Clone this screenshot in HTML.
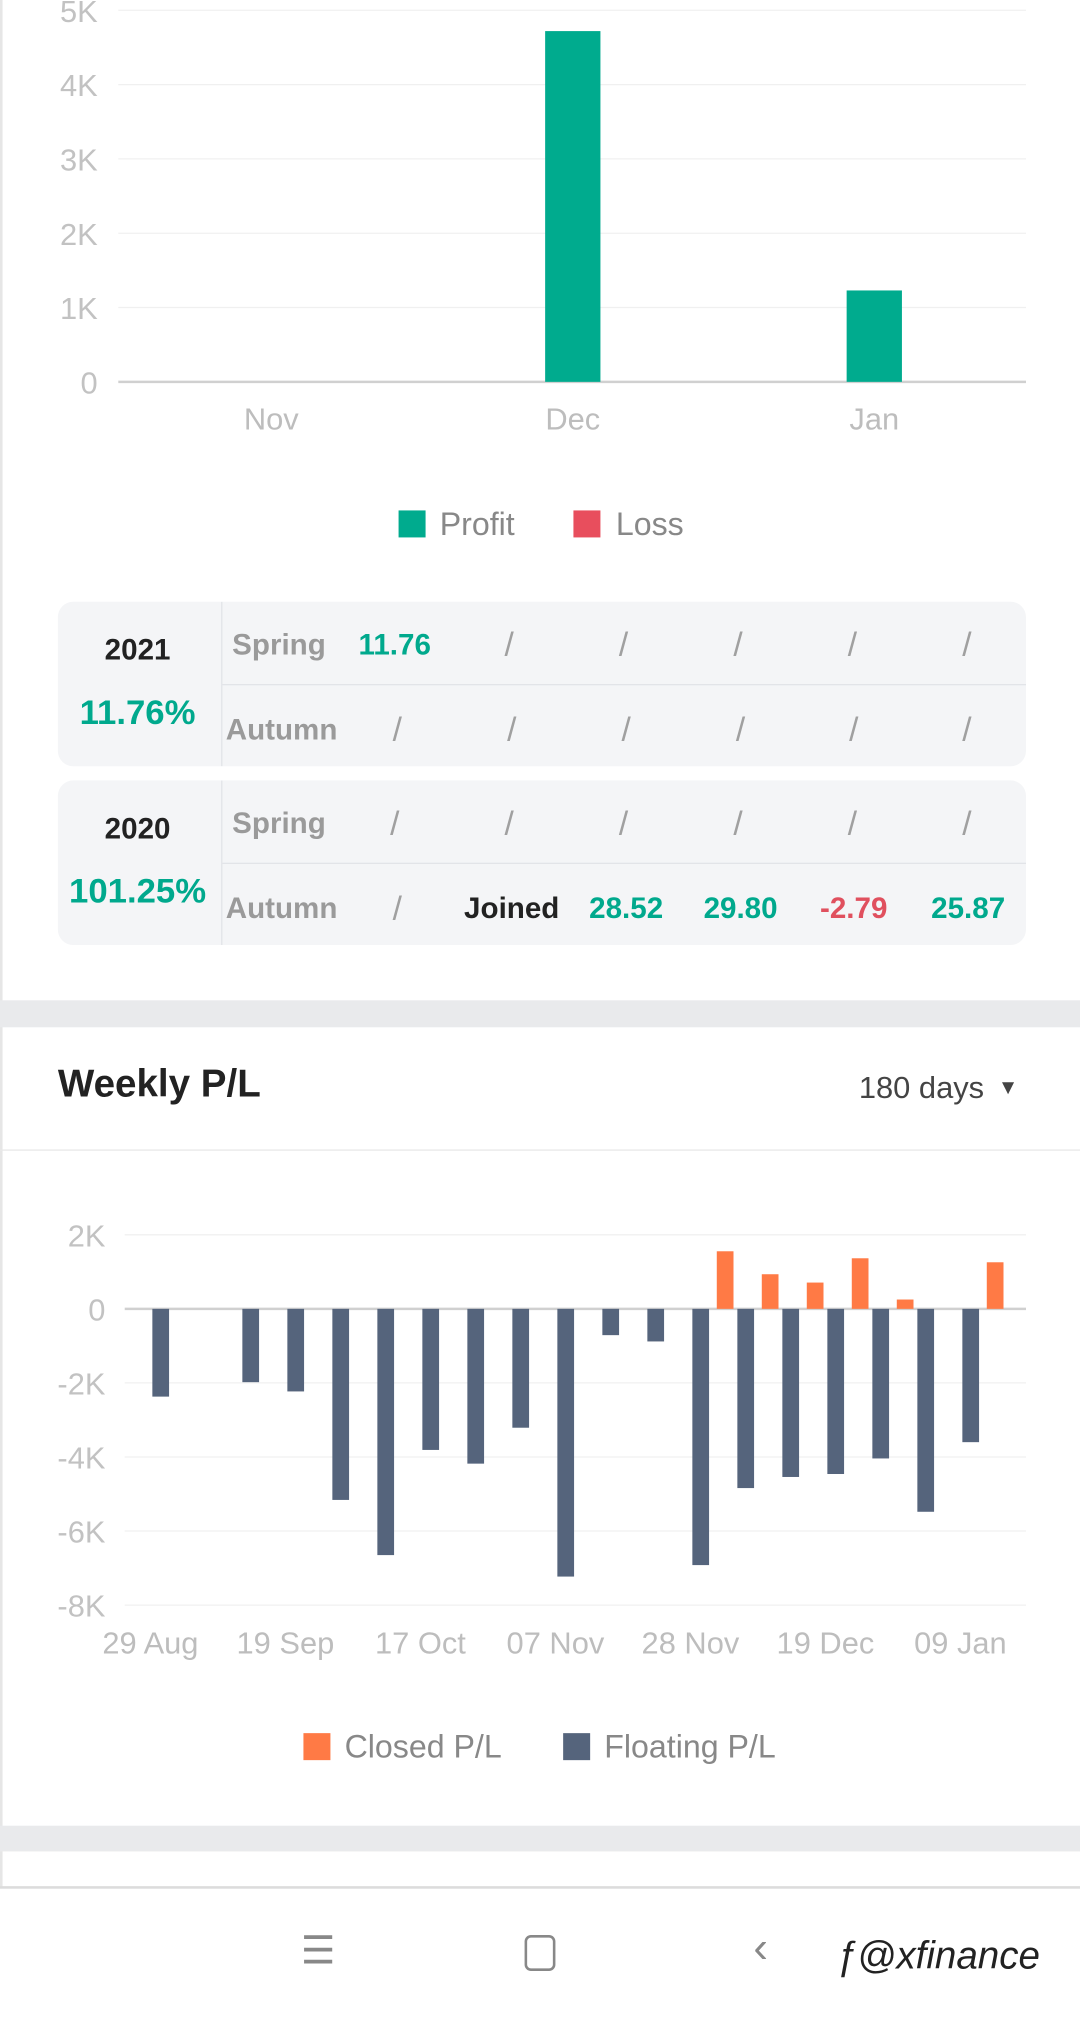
<!DOCTYPE html>
<html><head><meta charset="utf-8">
<style>
html,body{margin:0;padding:0;background:#fff;width:1080px;height:2017px;overflow:hidden;font-family:"Liberation Sans",sans-serif;}
#wrap{position:absolute;left:0;top:0;width:840px;height:1569px;transform:scale(1.285714);transform-origin:0 0;}
.abs{position:absolute;}
.card{position:absolute;left:45px;width:753px;height:128px;background:#f4f5f7;border-radius:12px;overflow:hidden;}
.card .vdiv{position:absolute;left:127px;top:0;bottom:0;width:1px;background:#e2e4e8;}
.card .hdiv{position:absolute;left:128px;right:0;top:64px;height:1px;background:#e2e4e8;}
.cell{position:absolute;transform:translateX(-50%);font-family:"Liberation Sans",sans-serif;font-size:23px;font-weight:bold;white-space:nowrap;}
.g{color:#00a98d}.r{color:#e0505e}.s{color:#a0a0a0;font-weight:normal;font-size:26px}.k{color:#222}.lab{color:#9a9a9a}
</style></head><body>
<div id="wrap">
<div class="abs" style="left:0;top:0;width:2px;height:1468px;background:#e6e6e6"></div>
<svg id="monthly" class="abs" style="left:0;top:0" width="840" height="440"></svg>

<div class="card" style="top:468px">
 <div class="vdiv"></div><div class="hdiv"></div>
 <div class="cell k" style="left:62px;top:24px;font-size:23px">2021</div>
 <div class="cell g" style="left:62px;top:71px;font-size:27px">11.76%</div>
 <div class="cell lab" style="left:172px;top:20px">Spring</div>
 <div class="cell g" style="left:262px;top:20px">11.76</div>
 <div class="cell s" style="left:351px;top:18px">/</div><div class="cell s" style="left:440px;top:18px">/</div><div class="cell s" style="left:529px;top:18px">/</div><div class="cell s" style="left:618px;top:18px">/</div><div class="cell s" style="left:707px;top:18px">/</div>
 <div class="cell lab" style="left:174px;top:86px">Autumn</div>
 <div class="cell s" style="left:264px;top:84px">/</div><div class="cell s" style="left:353px;top:84px">/</div><div class="cell s" style="left:442px;top:84px">/</div><div class="cell s" style="left:531px;top:84px">/</div><div class="cell s" style="left:619px;top:84px">/</div><div class="cell s" style="left:707px;top:84px">/</div>
</div>
<div class="card" style="top:607px">
 <div class="vdiv"></div><div class="hdiv"></div>
 <div class="cell k" style="left:62px;top:24px">2020</div>
 <div class="cell g" style="left:62px;top:71px;font-size:27px">101.25%</div>
 <div class="cell lab" style="left:172px;top:20px">Spring</div>
 <div class="cell s" style="left:262px;top:18px">/</div><div class="cell s" style="left:351px;top:18px">/</div><div class="cell s" style="left:440px;top:18px">/</div><div class="cell s" style="left:529px;top:18px">/</div><div class="cell s" style="left:618px;top:18px">/</div><div class="cell s" style="left:707px;top:18px">/</div>
 <div class="cell lab" style="left:174px;top:86px">Autumn</div>
 <div class="cell s" style="left:264px;top:84px">/</div>
 <div class="cell k" style="left:353px;top:86px">Joined</div>
 <div class="cell g" style="left:442px;top:86px">28.52</div>
 <div class="cell g" style="left:531px;top:86px">29.80</div>
 <div class="cell r" style="left:619px;top:86px">-2.79</div>
 <div class="cell g" style="left:708px;top:86px">25.87</div>
</div>

<div class="abs" style="left:0;top:778px;width:840px;height:21px;background:#e9eaec"></div>
<div class="abs" style="left:45px;top:827px;font-size:30px;font-weight:bold;color:#222">Weekly P/L</div>
<div class="abs" style="left:668px;top:833px;font-size:24px;color:#444">180 days <span style="font-size:16px;position:relative;top:-3px;margin-left:4px">▼</span></div>
<div class="abs" style="left:0;top:894px;width:840px;height:1px;background:#e8e8e8"></div>
<svg id="weekly" class="abs" style="left:0;top:900px" width="840" height="500"></svg>

<div class="abs" style="left:0;top:1420px;width:840px;height:20px;background:#e9eaec"></div>
<div class="abs" style="left:0;top:1467px;width:840px;height:2px;background:#dcdcdc"></div>
<div class="abs" style="left:234px;top:1500px;font-size:30px;color:#888">☰</div>
<div class="abs" style="left:408px;top:1505px;width:20px;height:24px;border:2.5px solid #888;border-radius:5px"></div>
<div class="abs" style="left:586px;top:1496px;font-size:34px;color:#888">‹</div>
<div class="abs" style="left:650px;top:1505px;font-size:30px;color:#222;font-style:italic">ƒ@xfinance</div>
</div>
<script>
const NS='http://www.w3.org/2000/svg';
function mk(p,t,a){const e=document.createElementNS(NS,t);for(const k in a)e.setAttribute(k,a[k]);p.appendChild(e);return e;}
// Monthly chart data
const mCats=['Nov','Dec','Jan'];
const mProfit=[0,4720,1230];
const mTicks=[0,1000,2000,3000,4000,5000];
const mTickLabels=['0','1K','2K','3K','4K','5K'];
// Weekly chart data
const wLabels=['29 Aug','','','19 Sep','','','17 Oct','','','07 Nov','','','28 Nov','','','19 Dec','','','09 Jan',''];
const wFloating=[-2370,0,-1980,-2230,-5160,-6650,-3810,-4180,-3210,-7230,-710,-880,-6920,-4840,-4540,-4460,-4040,-5480,-3600,0];
const wClosed=[0,0,0,0,0,0,0,0,0,0,0,0,0,1555,935,710,1366,252,0,1258];
const wTicks=[2000,0,-2000,-4000,-6000,-8000];
const wTickLabels=['2K','0','-2K','-4K','-6K','-8K'];

(function(){
 const s=document.getElementById('monthly');
 const y=v=>297-v/1000*57.8;
 const x=i=>211+i*234.5;
 mTicks.forEach((t,i)=>{
  const l=mk(s,'line',{x1:92,x2:798,y1:y(t),y2:y(t),stroke:t===0?'#d0d0d0':'#f0f0f0','stroke-width':t===0?2:1});
  
  
  const tx=mk(s,'text',{x:76,y:y(t)+9,'text-anchor':'end','font-size':24,fill:'#c2c2c2'});
  tx.textContent=mTickLabels[i];
  
  
 });
 mCats.forEach((c,i)=>{
  const h=mProfit[i]/1000*57.8;
  if(h>0){const r=mk(s,'rect',{x:x(i)-21.5,y:y(mProfit[i]),width:43,height:h,fill:'#00ab8e'});
  
  }
  const t=mk(s,'text',{x:x(i),y:334,'text-anchor':'middle','font-size':24,fill:'#bdbdbd'});
  t.textContent=c;
  
  
 });
 const a=mk(s,'rect',{x:310,y:397,width:21,height:21,fill:'#00ab8e'});
 
 
 const at=mk(s,'text',{x:342,y:416,'font-size':25,fill:'#888'});at.textContent='Profit';
 
 
 const b=mk(s,'rect',{x:446,y:397,width:21,height:21,fill:'#e84e5d'});
 
 
 const bt=mk(s,'text',{x:479,y:416,'font-size':25,fill:'#888'});bt.textContent='Loss';
 
 
})();

(function(){
 const s=document.getElementById('weekly');
 const O=900;
 const y=v=>1018-O-v/2000*57.6;
 const x=i=>117+i*35;
 wTicks.forEach((t,i)=>{
  const l=mk(s,'line',{x1:97,x2:798,y1:y(t),y2:y(t),stroke:t===0?'#d0d0d0':'#f0f0f0','stroke-width':t===0?2:1});
  
  
  const tx=mk(s,'text',{x:82,y:y(t)+9,'text-anchor':'end','font-size':24,fill:'#c2c2c2'});
  tx.textContent=wTickLabels[i];
  
  
 });
 wFloating.forEach((v,i)=>{
  if(v!==0){const r=mk(s,'rect',{x:x(i)+8-6.5,y:Math.min(y(0),y(v)),width:13,height:Math.abs(y(v)-y(0)),fill:'#55647c'});
  
  }
  const c=wClosed[i];
  if(c!==0){const r=mk(s,'rect',{x:x(i)-8-6.5,y:Math.min(y(0),y(c)),width:13,height:Math.abs(y(c)-y(0)),fill:'#ff7a45'});
  
  }
  if(wLabels[i]){const t=mk(s,'text',{x:x(i),y:1286-O,'text-anchor':'middle','font-size':24,fill:'#bdbdbd'});
  t.textContent=wLabels[i];
  
  }
 });
 const a=mk(s,'rect',{x:236,y:1348-O,width:21,height:21,fill:'#ff7a45'});
 
 
 const at=mk(s,'text',{x:268,y:1367-O,'font-size':25,fill:'#888'});at.textContent='Closed P/L';
 
 
 const b=mk(s,'rect',{x:438,y:1348-O,width:21,height:21,fill:'#55647c'});
 
 
 const bt=mk(s,'text',{x:470,y:1367-O,'font-size':25,fill:'#888'});bt.textContent='Floating P/L';
 
 
})();
</script>
</body></html>
